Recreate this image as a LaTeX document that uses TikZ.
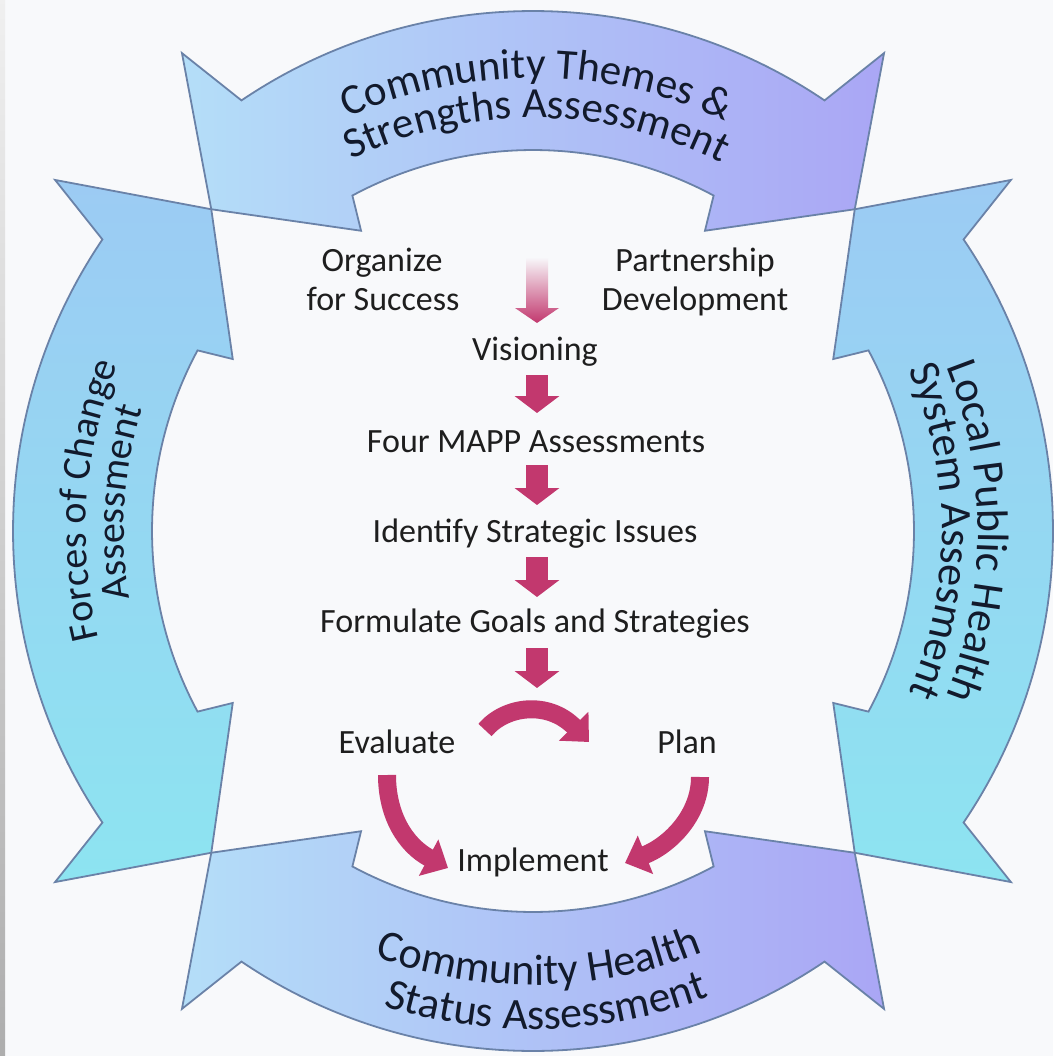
\documentclass[tikz,border=0pt]{standalone}
\usepackage{fontspec}
\setmainfont{Carlito}
\usetikzlibrary{decorations.text,arrows.meta}
\definecolor{bg}{HTML}{F8F9FB}
\definecolor{mag}{HTML}{C2386E}
\definecolor{edge}{HTML}{6A82A8}
\definecolor{tl}{HTML}{B4DEF8}
\definecolor{tr}{HTML}{AAA6F5}
\definecolor{lt}{HTML}{9CCBF3}
\definecolor{lb}{HTML}{8DE4F1}
\definecolor{txt}{HTML}{1E1E1E}
\definecolor{lbltxt}{HTML}{121A2C}
\newfontfamily\lblfamily{Carlito}
\newcommand\lblfonttop{\lblfamily\fontsize{43}{43}\selectfont}
\newcommand\lblfontbig{\lblfamily\fontsize{44}{44}\selectfont}
\newcommand\lblfontsm{\lblfamily\fontsize{40}{40}\selectfont}
% one curved band arrow, rotated by #1 degrees about the centre
\newcommand\bigarrow[2]{\path[#2] (45+#1:455) -- (53.7+#1:593) -- (55.9+#1:520)
  arc[start angle=55.9+#1, end angle=124.1+#1, radius=520] -- (126.3+#1:593) -- (135+#1:455)
  -- (119.8+#1:346) -- (118.3+#1:381) arc[start angle=118.3+#1, end angle=61.7+#1, radius=381]
  -- (60.2+#1:346) -- cycle;}
% curved label: #1 radius, #2 start angle, #3 end angle, #4 font, #5 text
\newcommand\arclabel[5]{\path[decorate, decoration={text along path, text align=center,
  text color=lbltxt, text={|#4|#5}}] (#2:#1) arc[start angle=#2, end angle=#3, radius=#1];}
\tikzset{
  band/.style={draw=edge, line width=1.8pt},
  step label/.style={font=\fontsize{34}{40}\selectfont, text=txt, inner sep=0pt, anchor=base},
  blk/.style={draw=mag, line width=22pt, -{Triangle[width=44pt,length=17pt]}},
  cyc/.style={draw=mag, line width=18pt, -{Triangle[width=40pt,length=22pt]}},
}
\begin{document}
\begin{tikzpicture}[x=1pt,y=1pt]
\useasboundingbox (0,0) rectangle (1053,-1056);
\fill[bg] (0,0) rectangle (1053,-1056);
\shade[top color=black!6, bottom color=black!32] (0,0) rectangle (5,-1056);

\begin{scope}[shift={(533,-531)}]
  \bigarrow{0}{band, left color=tl, right color=tr}
  \bigarrow{180}{band, left color=tl, right color=tr}
  \bigarrow{90}{band, top color=lt, bottom color=lb}
  \bigarrow{270}{band, top color=lt, bottom color=lb}
  % labels on the bands
  \arclabel{453}{149.5}{29.5}{\lblfonttop}{Community Themes {\&}}
  \arclabel{413}{149.5}{29.5}{\lblfonttop}{Strengths Assessment}
  \arclabel{447}{236}{116}{\lblfontsm}{Forces of Change}
  \arclabel{409}{236}{116}{\lblfontsm}{Assessment}
  \arclabel{445}{60}{-60}{\lblfontbig}{Local Public Health}
  \arclabel{409}{60}{-60}{\lblfontbig}{System Assesment}
  \arclabel{454}{210.8}{330.8}{\lblfontbig}{Community Health}
  \arclabel{498}{211.6}{331.6}{\lblfontbig}{Status Assessment}
\end{scope}

% step texts
\node[step label] (org1) at (382,-272) {Organize};
\node[step label] (org2) at (383,-310) {for Success};
\node[step label] (par1) at (695,-272) {Partnership};
\node[step label] (par2) at (695,-310) {Development};
\node[step label] (vis) at (535,-360) {Visioning};
\node[step label] (four) at (536,-452) {Four MAPP Assessments};
\node[step label] (iden) at (535,-542) {Identify Strategic Issues};
\node[step label] (form) at (535,-632) {Formulate Goals and Strategies};
\node[step label] (eval) at (397,-753) {Evaluate};
\node[step label] (plan) at (687,-753) {Plan};
\node[step label] (impl) at (533,-871) {Implement};

% straight block arrows
\shade[top color=bg, bottom color=mag] (526,-257) -- (548,-257) -- (548,-308) -- (559,-308)
  -- (537,-323) -- (515,-308) -- (526,-308) -- cycle;
\coordinate (a1s) at (537,-375); \coordinate (a1e) at (537,-413);
\coordinate (a2s) at (537,-465); \coordinate (a2e) at (537,-505);
\coordinate (a3s) at (537,-557); \coordinate (a3e) at (537,-597);
\coordinate (a4s) at (537,-648); \coordinate (a4e) at (537,-688);
\draw[blk] (a1s) -- (a1e);
\draw[blk] (a2s) -- (a2e);
\draw[blk] (a3s) -- (a3e);
\draw[blk] (a4s) -- (a4e);

% cycle arrows
\coordinate (c1s) at (485,-730); \coordinate (c1e) at (589,-742);
\coordinate (c2s) at (387,-775); \coordinate (c2e) at (448,-868);
\coordinate (c3s) at (700,-777); \coordinate (c3e) at (625,-863);
\draw[cyc] (c1s) .. controls (505,-706) and (548,-700) .. (c1e);
\draw[cyc] (c2s) .. controls (387,-815) and (405,-845) .. (c2e);
\draw[cyc] (c3s) .. controls (700,-815) and (670,-845) .. (c3e);
\end{tikzpicture}
\end{document}
